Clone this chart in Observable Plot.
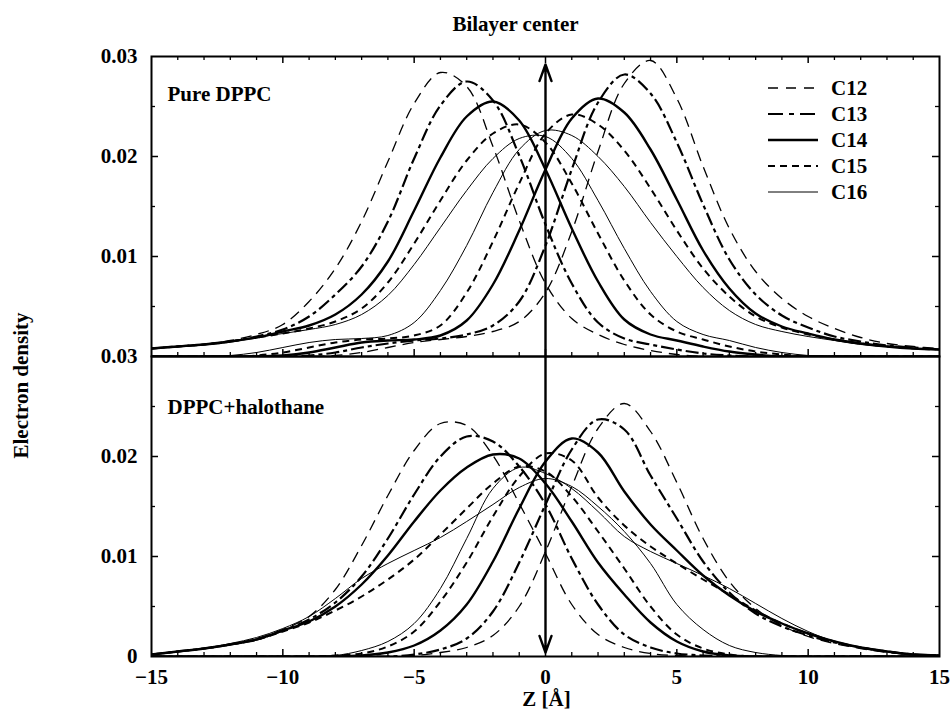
<!DOCTYPE html>
<html>
<head>
<meta charset="utf-8">
<script src="https://cdn.jsdelivr.net/npm/d3@7"></script>
<script src="https://cdn.jsdelivr.net/npm/@observablehq/plot@0.6"></script>
<style>
  body { margin: 0; background: #fff; }
  #chart { width: 951px; height: 711px; }
  #chart svg { display: block; }
</style>
</head>
<body>
<div id="chart"></div>
<script>
// ---------------- data ----------------
const zGrid = [-15,-14,-13,-12,-11,-10,-9,-8,-7,-6,-5,-4,-3,-2,-1,0,1,2,3,4,5,6,7,8,9,10,11,12,13,14,15];
const panels = ["Pure DPPC", "DPPC+halothane"];
const carbons = ["C12", "C13", "C14", "C15", "C16"];

// Pure DPPC – left leaflet (peaks at negative Z)
const topC12L = [0.0008,0.0010,0.0012,0.0016,0.0022,0.0032,0.0055,0.0088,0.0135,0.0195,0.0253,0.0284,0.0270,0.0210,0.0136,0.0073,0.0038,0.0022,0.0012,0.0006,0.0002,0,0,0,0,0,0,0,0,0,0];
const topC13L = [0.0008,0.0010,0.0012,0.0015,0.0020,0.0027,0.0040,0.0062,0.0090,0.0135,0.0198,0.0251,0.0275,0.0256,0.0201,0.0132,0.0073,0.0034,0.0018,0.0012,0.0007,0.0003,0.0001,0,0,0,0,0,0,0,0];
const topC14L = [0.0008,0.0010,0.0012,0.0015,0.0019,0.0025,0.0031,0.0042,0.0062,0.0095,0.0146,0.0199,0.0240,0.0255,0.0236,0.0187,0.0128,0.0075,0.0037,0.0022,0.0016,0.0010,0.0005,0.0002,0,0,0,0,0,0,0];
const topC15L = [0.0008,0.0010,0.0012,0.0015,0.0019,0.0023,0.0028,0.0035,0.0048,0.0074,0.0113,0.0156,0.0196,0.0223,0.0232,0.0214,0.0173,0.0123,0.0076,0.0042,0.0025,0.0017,0.0010,0.0005,0.0002,0,0,0,0,0,0];
const topC16L = [0.0008,0.0010,0.0012,0.0015,0.0019,0.0023,0.0027,0.0032,0.0042,0.0061,0.0092,0.0129,0.0166,0.0198,0.0218,0.0220,0.0198,0.0156,0.0108,0.0065,0.0035,0.0022,0.0016,0.0009,0.0004,0.0001,0,0,0,0,0];
// Pure DPPC – right leaflet (peaks at positive Z)
const topC12R = [0,0,0,0,0,0,0,0.0001,0.0004,0.0009,0.0014,0.0017,0.0020,0.0025,0.0035,0.0064,0.0125,0.0205,0.0273,0.0296,0.0258,0.0190,0.0128,0.0085,0.0058,0.0040,0.0028,0.0019,0.0013,0.0010,0.0008];
const topC13R = [0,0,0,0,0,0,0.0001,0.0004,0.0009,0.0013,0.0016,0.0018,0.0022,0.0031,0.0055,0.0111,0.0187,0.0254,0.0282,0.0263,0.0214,0.0152,0.0097,0.0062,0.0041,0.0029,0.0020,0.0015,0.0011,0.0009,0.0007];
const topC14R = [0,0,0,0,0,0.0001,0.0004,0.0009,0.0014,0.0016,0.0017,0.0021,0.0036,0.0072,0.0126,0.0187,0.0238,0.0258,0.0244,0.0207,0.0157,0.0106,0.0068,0.0043,0.0030,0.0023,0.0017,0.0013,0.0010,0.0008,0.0007];
const topC15R = [0,0,0,0,0.0001,0.0004,0.0009,0.0014,0.0017,0.0018,0.0021,0.0031,0.0064,0.0115,0.0173,0.0223,0.0242,0.0232,0.0206,0.0168,0.0126,0.0088,0.0060,0.0040,0.0029,0.0022,0.0017,0.0013,0.0010,0.0008,0.0007];
const topC16R = [0,0,0,0.0001,0.0004,0.0009,0.0014,0.0017,0.0018,0.0021,0.0034,0.0066,0.0111,0.0164,0.0207,0.0226,0.0221,0.0200,0.0170,0.0134,0.0100,0.0069,0.0046,0.0032,0.0025,0.0020,0.0016,0.0012,0.0010,0.0008,0.0007];

// DPPC+halothane – left leaflet
const botC12L = [0.0002,0.0005,0.0008,0.0012,0.0018,0.0027,0.0040,0.0067,0.0111,0.0161,0.0206,0.0233,0.0231,0.0201,0.0153,0.0103,0.0052,0.0022,0.0009,0.0003,0.0001,0,0,0,0,0,0,0,0,0,0];
const botC13L = [0.0002,0.0005,0.0008,0.0012,0.0017,0.0026,0.0037,0.0054,0.0080,0.0118,0.0162,0.0200,0.0220,0.0215,0.0190,0.0152,0.0098,0.0052,0.0022,0.0009,0.0003,0.0001,0,0,0,0,0,0,0,0,0];
const botC14L = [0.0002,0.0005,0.0008,0.0012,0.0017,0.0026,0.0035,0.0050,0.0072,0.0101,0.0135,0.0166,0.0189,0.0202,0.0198,0.0173,0.0135,0.0094,0.0062,0.0034,0.0015,0.0005,0.0001,0,0,0,0,0,0,0,0];
const botC15L = [0.0002,0.0005,0.0008,0.0012,0.0017,0.0025,0.0034,0.0046,0.0060,0.0077,0.0097,0.0122,0.0148,0.0173,0.0190,0.0185,0.0160,0.0125,0.0088,0.0050,0.0022,0.0008,0.0002,0,0,0,0,0,0,0,0];
const botC16L = [0.0002,0.0005,0.0008,0.0013,0.0019,0.0028,0.0040,0.0058,0.0078,0.0093,0.0106,0.0119,0.0135,0.0152,0.0169,0.0178,0.0170,0.0150,0.0125,0.0093,0.0052,0.0027,0.0011,0.0004,0.0001,0,0,0,0,0,0];
// DPPC+halothane – right leaflet
const botC12R = [0,0,0,0,0,0,0,0,0,0,0.0001,0.0004,0.0009,0.0021,0.0050,0.0105,0.0170,0.0228,0.0253,0.0225,0.0174,0.0118,0.0075,0.0048,0.0031,0.0020,0.0013,0.0008,0.0004,0.0002,0.0001];
const botC13R = [0,0,0,0,0,0,0,0,0,0,0.0002,0.0007,0.0018,0.0045,0.0094,0.0152,0.0207,0.0237,0.0227,0.0181,0.0138,0.0095,0.0064,0.0043,0.0030,0.0021,0.0014,0.0009,0.0005,0.0002,0.0001];
const botC14R = [0,0,0,0,0,0,0,0,0.0001,0.0004,0.0011,0.0026,0.0052,0.0095,0.0148,0.0195,0.0218,0.0204,0.0165,0.0132,0.0106,0.0081,0.0061,0.0045,0.0033,0.0023,0.0015,0.0009,0.0005,0.0002,0.0001];
const botC15R = [0,0,0,0,0,0,0,0.0001,0.0003,0.0010,0.0025,0.0055,0.0094,0.0140,0.0180,0.0203,0.0196,0.0159,0.0131,0.0110,0.0093,0.0077,0.0062,0.0046,0.0033,0.0023,0.0015,0.0009,0.0005,0.0002,0.0001];
const botC16R = [0,0,0,0,0,0,0,0.0001,0.0006,0.0015,0.0033,0.0068,0.0118,0.0168,0.0189,0.0183,0.0168,0.0145,0.0120,0.0105,0.0093,0.0081,0.0068,0.0053,0.0038,0.0025,0.0015,0.0009,0.0005,0.0002,0.0001];

const xTickValues = [-15, -10, -5, 0, 5, 10, 15];
const xTickLabels = ["\u221215", "\u221210", "\u22125", "0", "5", "10", "15"];
const yTickValuesTop = [0.01, 0.02, 0.03];
const yTickLabelsTop = ["0.01", "0.02", "0.03"];
const yTickValuesBottom = [0, 0.01, 0.02, 0.03];
const yTickLabelsBottom = ["0", "0.01", "0.02", "0.03"];
const chartTitle = "Bilayer center";
const xTitle = "Z [\u00c5]";
const yTitle = "Electron density";

// ---------------- tables built from the arrays ----------------
const series = [
  {panel: panels[0], carbon: "C12", values: topC12L}, {panel: panels[0], carbon: "C12", values: topC12R},
  {panel: panels[0], carbon: "C13", values: topC13L}, {panel: panels[0], carbon: "C13", values: topC13R},
  {panel: panels[0], carbon: "C14", values: topC14L}, {panel: panels[0], carbon: "C14", values: topC14R},
  {panel: panels[0], carbon: "C15", values: topC15L}, {panel: panels[0], carbon: "C15", values: topC15R},
  {panel: panels[0], carbon: "C16", values: topC16L}, {panel: panels[0], carbon: "C16", values: topC16R},
  {panel: panels[1], carbon: "C12", values: botC12L}, {panel: panels[1], carbon: "C12", values: botC12R},
  {panel: panels[1], carbon: "C13", values: botC13L}, {panel: panels[1], carbon: "C13", values: botC13R},
  {panel: panels[1], carbon: "C14", values: botC14L}, {panel: panels[1], carbon: "C14", values: botC14R},
  {panel: panels[1], carbon: "C15", values: botC15L}, {panel: panels[1], carbon: "C15", values: botC15R},
  {panel: panels[1], carbon: "C16", values: botC16L}, {panel: panels[1], carbon: "C16", values: botC16R}
];
const rows = series.flatMap((s, k) => zGrid.map((z, i) => ({panel: s.panel, carbon: s.carbon, id: k, z, v: s.values[i]})));

const styles = {
  C12: {strokeWidth: 1.3, strokeDasharray: "11,7"},
  C13: {strokeWidth: 2.2, strokeDasharray: "13,4,4,4"},
  C14: {strokeWidth: 2.4},
  C15: {strokeWidth: 2.0, strokeDasharray: "7,5"},
  C16: {strokeWidth: 1.0}
};
const legendDash = {C12: "10,8", C13: "15,6,5,6", C14: null, C15: "7,5", C16: null};

const yLabelRows = [
  ...yTickValuesTop.map((v, i) => ({panel: panels[0], v, label: yTickLabelsTop[i]})),
  ...yTickValuesBottom.map((v, i) => ({panel: panels[1], v, label: yTickLabelsBottom[i]}))
];
const xLabelRows = xTickValues.map((v, i) => ({panel: panels[1], v, label: xTickLabels[i]}));
const arrowRows = [
  {panel: panels[0], z: 0, from: 0, to: 0.03},
  {panel: panels[1], z: 0, from: 0.03, to: 0}
];

const xMinor = d3.range(-14, 15).filter(d => d % 5 !== 0);
const xMajor = [-10, -5, 0, 5, 10];
const yMinor = [0.005, 0.015, 0.025];
const yMajor = [0.01, 0.02];

const frameW = 951 - 151 - 12;
const frameH = 300;

const lineMarks = carbons.map(c => Plot.line(rows.filter(r => r.carbon === c), {
  x: "z", y: "v", z: "id", fy: "panel", stroke: "black", curve: "catmull-rom", clip: true,
  strokeLinecap: "butt", ...styles[c]
}));

const chart = Plot.plot({
  width: 951,
  height: 711,
  marginTop: 56,
  marginBottom: 55,
  marginLeft: 151,
  marginRight: 12,
  x: {domain: [-15, 15], axis: null},
  y: {domain: [0, 0.03], axis: null},
  fy: {domain: panels, padding: 0, axis: null},
  style: {fontFamily: "'Liberation Serif', 'Times New Roman', serif", fontSize: "21px", fontWeight: "bold", color: "black", background: "white"},
  marks: [
    ...lineMarks,
    // center arrow
    Plot.arrow(arrowRows.filter(d => d.panel === panels[0]), {x1: "z", x2: "z", y1: "from", y2: "to", fy: "panel", stroke: "black", strokeWidth: 2.4, headLength: 11, headAngle: 40, insetEnd: 8}),
    Plot.arrow(arrowRows.filter(d => d.panel === panels[1]), {x1: "z", x2: "z", y1: "from", y2: "to", fy: "panel", stroke: "black", strokeWidth: 2.4, headLength: 11, headAngle: 40, insetEnd: 4}),
    // ticks (inward)
    Plot.ruleX(xMinor, {x: d => d, insetTop: frameH - 4, stroke: "black", strokeWidth: 1.3}),
    Plot.ruleX(xMajor, {x: d => d, insetTop: frameH - 7, stroke: "black", strokeWidth: 1.5}),
    Plot.ruleX(xMinor, {x: d => d, fy: () => panels[0], insetBottom: frameH - 4, stroke: "black", strokeWidth: 1.3}),
    Plot.ruleX(xMajor, {x: d => d, fy: () => panels[0], insetBottom: frameH - 7, stroke: "black", strokeWidth: 1.5}),
    Plot.ruleY(yMinor, {y: d => d, insetRight: frameW - 4, stroke: "black", strokeWidth: 1.3}),
    Plot.ruleY(yMajor, {y: d => d, insetRight: frameW - 7, stroke: "black", strokeWidth: 1.5}),
    Plot.ruleY(yMinor, {y: d => d, insetLeft: frameW - 4, stroke: "black", strokeWidth: 1.3}),
    Plot.ruleY(yMajor, {y: d => d, insetLeft: frameW - 7, stroke: "black", strokeWidth: 1.5}),
    Plot.frame({stroke: "black", strokeWidth: 2}),
    // tick labels
    Plot.text(yLabelRows, {fy: "panel", y: "v", text: "label", frameAnchor: "left", textAnchor: "end", dx: -14, fill: "black"}),
    Plot.text(xLabelRows, {fy: "panel", x: "v", text: "label", frameAnchor: "bottom", lineAnchor: "bottom", dy: 27, fill: "black"}),
    // panel labels
    Plot.text([panels[0]], {fy: d => d, text: d => d, frameAnchor: "top-left", textAnchor: "start", lineAnchor: "bottom", dx: 16, dy: 44, fill: "black"}),
    Plot.text([panels[1]], {fy: d => d, text: d => d, frameAnchor: "top-left", textAnchor: "start", lineAnchor: "bottom", dx: 16, dy: 57, fill: "black"}),
    // titles
    Plot.text([chartTitle], {fy: () => panels[0], text: d => d, frameAnchor: "top", textAnchor: "middle", lineAnchor: "bottom", dx: -30, dy: -26, fill: "black"}),
    Plot.text([yTitle], {fy: () => panels[1], text: d => d, frameAnchor: "top-left", textAnchor: "middle", lineAnchor: "middle", rotate: -90, dx: -130, dy: 29, fill: "black"}),
    Plot.text([xTitle], {fy: () => panels[1], text: d => d, frameAnchor: "bottom", textAnchor: "middle", lineAnchor: "bottom", dx: 1, dy: 49, fill: "black"})
  ]
});

document.getElementById("chart").appendChild(chart);

// legend (top-right of upper panel)
const svg = d3.select(chart);
const lg = svg.append("g").attr("class", "legend");
carbons.forEach((c, i) => {
  const y = 88 + 26 * i;
  lg.append("line")
    .attr("x1", 768).attr("x2", 818).attr("y1", y).attr("y2", y)
    .attr("stroke", "black")
    .attr("stroke-width", styles[c].strokeWidth)
    .attr("stroke-dasharray", legendDash[c]);
  lg.append("text")
    .attr("x", 831).attr("y", y).attr("dy", "0.34em")
    .attr("text-anchor", "start")
    .attr("fill", "black")
    .text(c);
});
</script>
</body>
</html>
